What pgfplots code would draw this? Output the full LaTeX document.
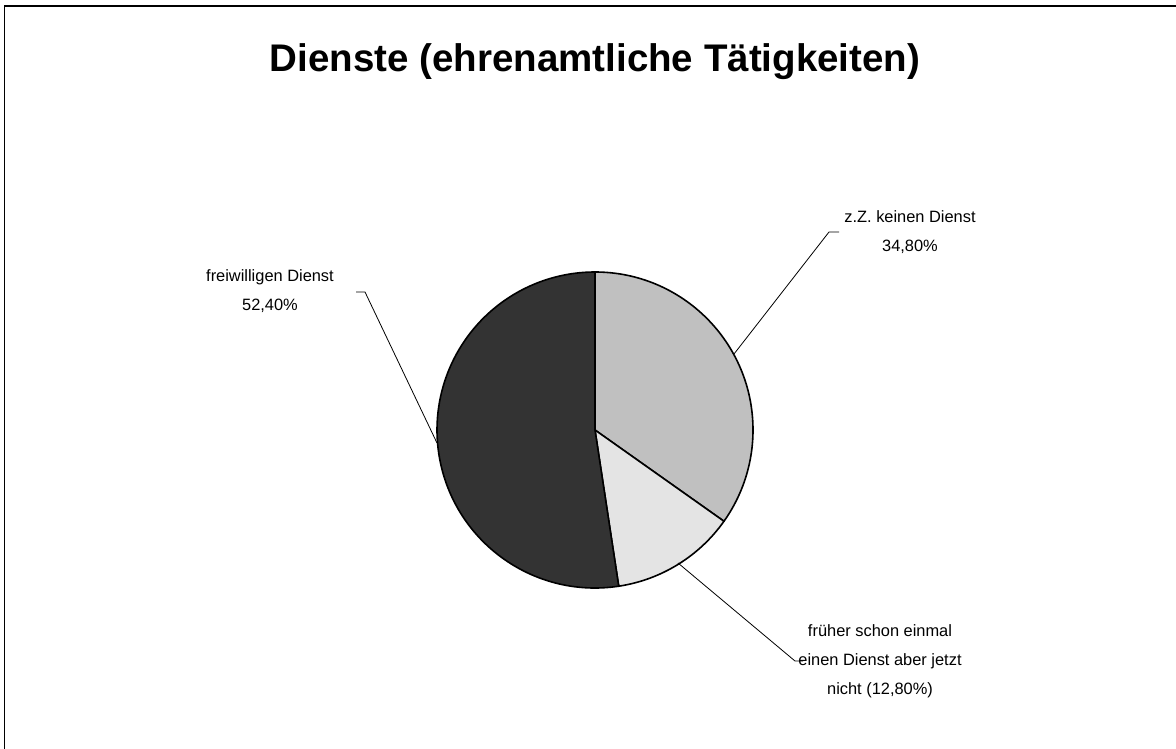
\documentclass[border=0pt]{standalone}
\usepackage{pgfplots}
\pgfplotsset{compat=1.18}
\usepackage{fontspec}
\setmainfont{Liberation Sans}
\definecolor{sliceA}{HTML}{C0C0C0}
\definecolor{sliceB}{HTML}{E4E4E4}
\definecolor{sliceC}{HTML}{333333}
% data (percent)
\newcommand{\valA}{34.8}  % z.Z. keinen Dienst
\newcommand{\valB}{12.8}  % frueher schon einmal ...
\newcommand{\valC}{52.4}  % freiwilligen Dienst
\pgfmathsetmacro{\angA}{90-\valA*3.6}
\pgfmathsetmacro{\angB}{\angA-\valB*3.6}
\pgfmathsetmacro{\angC}{\angB-\valC*3.6}
\begin{document}
\begin{tikzpicture}
\path[use as bounding box] (0,0) rectangle (1176pt,749pt);
\begin{axis}[
  anchor=south west, at={(0,0)},
  scale only axis, width=1176pt, height=749pt,
  xmin=0, xmax=1176, ymin=0, ymax=749, y dir=reverse,
  hide axis, clip=false,
]
% frame (left and top edges visible)
\draw[line width=1.3pt] (axis cs:4.5,749) -- (axis cs:4.5,6) -- (axis cs:1176,6);
% title
\node[anchor=base, inner sep=0, font=\fontsize{38.5}{44}\selectfont\bfseries] at (axis cs:595,72) {Dienste (ehrenamtliche Tätigkeiten)};
% pie slices
\filldraw[fill=sliceA, draw=black, line width=1.6pt, line join=round] (axis cs:595,430) -- ++(90:158pt) arc[start angle=90, end angle=\angA, radius=158pt] -- cycle;
\filldraw[fill=sliceB, draw=black, line width=1.6pt, line join=round] (axis cs:595,430) -- ++(\angA:158pt) arc[start angle=\angA, end angle=\angB, radius=158pt] -- cycle;
\filldraw[fill=sliceC, draw=black, line width=1.6pt, line join=round] (axis cs:595,430) -- ++(\angB:158pt) arc[start angle=\angB, end angle=\angC, radius=158pt] -- cycle;
% leader lines
\draw[line width=0.8pt] (axis cs:734,354) -- (axis cs:829,232) -- (axis cs:839,232);
\draw[line width=0.8pt] (axis cs:437,443) -- (axis cs:365,292) -- (axis cs:356,292);
\draw[line width=0.8pt] (axis cs:678,563) -- (axis cs:795,661) -- (axis cs:803,661);
% labels
\node[align=center, inner sep=0, font=\fontsize{16.4}{29.5}\selectfont] at (axis cs:910,232) {z.Z. keinen Dienst\\34,80\%};
\node[align=center, inner sep=0, font=\fontsize{16.4}{29.5}\selectfont] at (axis cs:270,291) {freiwilligen Dienst\\52,40\%};
\node[align=center, inner sep=0, font=\fontsize{16.4}{29}\selectfont] at (axis cs:880,661) {früher schon einmal\\einen Dienst aber jetzt\\nicht (12,80\%)};
\end{axis}
\end{tikzpicture}
\end{document}
